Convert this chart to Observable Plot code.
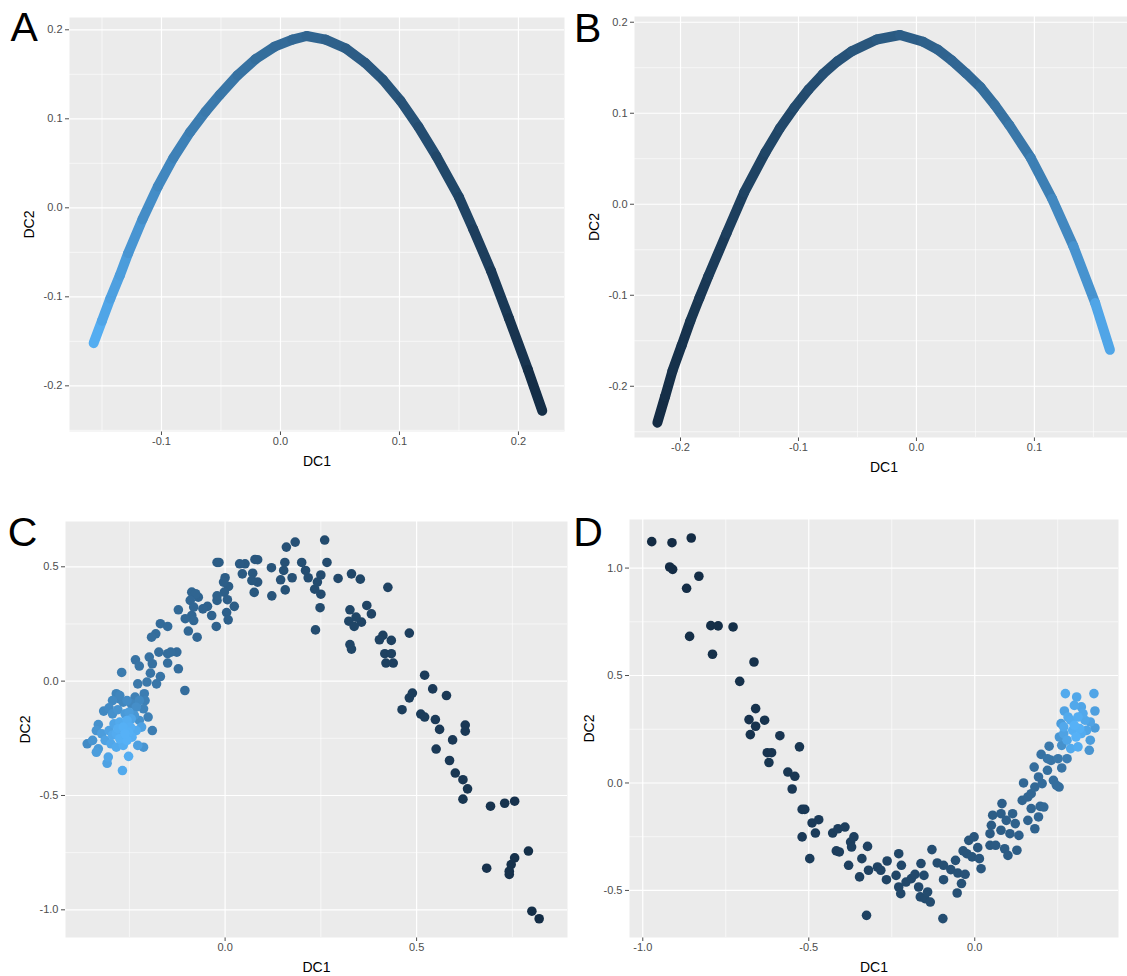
<!DOCTYPE html>
<html>
<head>
<meta charset="utf-8">
<script src="https://cdn.jsdelivr.net/npm/d3@7"></script>
<script src="https://cdn.jsdelivr.net/npm/@observablehq/plot@0.6"></script>
<style>
  html, body { margin: 0; padding: 0; background: #ffffff; overflow: hidden; }
  #root { position: relative; width: 1127px; height: 976px; overflow: hidden; background: #ffffff; }
  .panel { position: absolute; }
</style>
</head>
<body>
<div id="root"></div>
<script>
// ---------- data ----------
// Panel A: diffusion curve, [DC1, DC2, colour value]
const curveA = [
  [-0.157,-0.152,1.00],[-0.150,-0.127,0.94],[-0.143,-0.102,0.90],[-0.135,-0.076,0.87],
  [-0.128,-0.051,0.84],[-0.116,-0.013,0.78],[-0.103,0.024,0.73],[-0.090,0.056,0.69],
  [-0.076,0.085,0.65],[-0.063,0.108,0.62],[-0.051,0.127,0.60],[-0.036,0.149,0.57],
  [-0.021,0.167,0.54],[-0.005,0.181,0.51],[0.010,0.189,0.49],[0.022,0.193,0.47],
  [0.038,0.189,0.44],[0.055,0.179,0.41],[0.071,0.163,0.38],[0.086,0.144,0.35],
  [0.101,0.120,0.33],[0.116,0.091,0.30],[0.131,0.058,0.26],[0.150,0.012,0.21],
  [0.162,-0.024,0.18],[0.177,-0.071,0.14],[0.192,-0.124,0.10],[0.208,-0.182,0.05],
  [0.220,-0.228,0.00]
];
// Panel B
const curveB = [
  [-0.2196,-0.240,0.00],[-0.213,-0.211,0.02],[-0.2068,-0.183,0.04],[-0.199,-0.155,0.06],
  [-0.1916,-0.128,0.08],[-0.184,-0.103,0.10],[-0.1764,-0.079,0.12],[-0.161,-0.032,0.15],
  [-0.146,0.013,0.18],[-0.128,0.057,0.21],[-0.116,0.083,0.23],[-0.1036,0.106,0.25],
  [-0.0915,0.126,0.27],[-0.0793,0.143,0.29],[-0.067,0.157,0.31],[-0.055,0.168,0.33],
  [-0.0337,0.181,0.36],[-0.014,0.186,0.39],[0.0058,0.1785,0.42],[0.018,0.170,0.44],
  [0.030,0.158,0.46],[0.042,0.144,0.48],[0.0544,0.1285,0.51],[0.0665,0.109,0.54],
  [0.0787,0.087,0.57],[0.0969,0.051,0.62],[0.115,0.006,0.68],[0.133,-0.046,0.75],
  [0.1515,-0.1085,0.84],[0.164,-0.160,1.00]
];
// Panel C: cells
const cellsC = [
  [0.820,-1.039,0.02],[0.801,-1.006,0.03],[0.792,-0.743,0.04],[0.756,-0.773,0.05],
  [0.747,-0.802,0.05],[0.742,-0.845,0.05],[0.742,-0.831,0.05],[0.683,-0.818,0.06],
  [0.756,-0.525,0.06],[0.730,-0.534,0.07],[0.693,-0.547,0.07],[0.621,-0.516,0.09],
  [0.633,-0.471,0.09],[0.621,-0.431,0.10],[0.601,-0.402,0.10],[0.586,-0.347,0.11],
  [0.594,-0.257,0.11],[0.551,-0.297,0.12],[0.560,-0.211,0.12],[0.549,-0.168,0.13],
  [0.627,-0.192,0.11],[0.627,-0.219,0.11],[0.578,-0.063,0.12],[0.542,-0.034,0.13],
  [0.521,0.026,0.14],[0.511,-0.144,0.14],[0.521,-0.157,0.14],[0.462,-0.125,0.15],
  [0.481,-0.073,0.15],[0.489,-0.052,0.15],[0.481,0.210,0.16],[0.434,0.178,0.18],
  [0.412,0.200,0.18],[0.403,0.181,0.19],[0.417,0.120,0.18],[0.434,0.120,0.18],
  [0.420,0.079,0.18],[0.439,0.079,0.17],[0.425,0.410,0.19],[0.370,0.331,0.21],
  [0.382,0.294,0.21],[0.326,0.312,0.22],[0.342,0.280,0.22],[0.323,0.262,0.22],
  [0.337,0.239,0.22],[0.356,0.258,0.21],[0.326,0.160,0.22],[0.330,0.140,0.22],
  [0.330,0.469,0.23],[0.353,0.446,0.22],[0.295,0.449,0.24],[0.260,0.617,0.26],
  [0.266,0.519,0.26],[0.250,0.464,0.26],[0.250,0.380,0.26],[0.248,0.321,0.26],
  [0.236,0.224,0.27],[0.234,0.402,0.27],[0.241,0.433,0.27],[0.217,0.452,0.28],
  [0.210,0.484,0.28],[0.200,0.519,0.29],[0.183,0.608,0.30],[0.160,0.586,0.31],
  [0.156,0.519,0.31],[0.153,0.484,0.31],[0.175,0.452,0.30],[0.145,0.443,0.32],
  [0.157,0.399,0.31],[0.121,0.496,0.33],[0.122,0.373,0.33],[0.085,0.531,0.35],
  [0.078,0.532,0.35],[0.085,0.433,0.35],[0.072,0.472,0.36],[0.070,0.440,0.36],
  [0.076,0.388,0.36],[0.052,0.513,0.37],[0.038,0.513,0.38],[0.045,0.469,0.37],
  [-0.021,0.519,0.40],[-0.016,0.519,0.40],[0.000,0.452,0.40],[-0.004,0.433,0.41],
  [0.009,0.414,0.40],[-0.002,0.389,0.41],[0.006,0.356,0.41],[0.024,0.327,0.40],
  [0.004,0.300,0.42],[0.008,0.268,0.42],[-0.021,0.353,0.43],[-0.021,0.373,0.43],
  [-0.035,0.287,0.44],[-0.023,0.239,0.44],[-0.046,0.327,0.44],[-0.058,0.316,0.45],
  [-0.070,0.367,0.45],[-0.087,0.389,0.46],[-0.077,0.382,0.46],[-0.091,0.353,0.47],
  [-0.082,0.324,0.47],[-0.087,0.287,0.47],[-0.082,0.265,0.48],[-0.104,0.273,0.48],
  [-0.073,0.192,0.47],[-0.096,0.219,0.48],[-0.122,0.312,0.49],[-0.169,0.251,0.51],
  [-0.150,0.239,0.51],[-0.192,0.192,0.53],[-0.181,0.207,0.52],[-0.173,0.127,0.53],
  [-0.150,0.120,0.52],[-0.142,0.127,0.52],[-0.126,0.127,0.51],[-0.150,0.079,0.53],
  [-0.122,0.054,0.52],[-0.105,-0.041,0.52],[-0.198,0.105,0.55],[-0.190,0.076,0.55],
  [-0.234,0.093,0.56],[-0.224,0.066,0.57],[-0.195,0.035,0.57],[-0.169,0.020,0.57],
  [-0.179,-0.012,0.59],[-0.204,-0.004,0.60],[-0.228,-0.012,0.60],[-0.270,0.038,0.62],
  [-0.211,-0.055,0.64],[-0.235,-0.070,0.66],[-0.284,-0.055,0.68],[-0.275,-0.077,0.69],
  [-0.266,-0.092,0.70],[-0.245,-0.099,0.70],[-0.209,-0.085,0.66],[-0.213,-0.121,0.68],
  [-0.201,-0.157,0.66],[-0.190,-0.216,0.64],[-0.317,-0.131,0.72],[-0.303,-0.117,0.74],
  [-0.294,-0.143,0.78],[-0.280,-0.125,0.80],[-0.261,-0.143,0.84],[-0.251,-0.136,0.86],
  [-0.237,-0.150,0.82],[-0.224,-0.172,0.78],[-0.331,-0.190,0.78],[-0.336,-0.216,0.80],
  [-0.322,-0.230,0.86],[-0.303,-0.216,0.90],[-0.290,-0.187,0.92],[-0.275,-0.179,0.95],
  [-0.256,-0.172,0.97],[-0.247,-0.201,0.98],[-0.232,-0.216,0.96],[-0.218,-0.201,0.90],
  [-0.360,-0.274,0.74],[-0.346,-0.259,0.80],[-0.331,-0.296,0.84],[-0.336,-0.311,0.86],
  [-0.313,-0.259,0.90],[-0.298,-0.274,0.93],[-0.284,-0.289,0.95],[-0.266,-0.281,0.97],
  [-0.256,-0.259,1.00],[-0.243,-0.245,0.98],[-0.228,-0.281,0.88],[-0.213,-0.289,0.80],
  [-0.305,-0.332,0.92],[-0.308,-0.359,0.90],[-0.252,-0.329,0.97],[-0.268,-0.391,0.95],
  [-0.284,-0.230,0.96],[-0.275,-0.252,0.99],[-0.261,-0.230,1.00],[-0.252,-0.223,0.99],
  [-0.294,-0.236,0.94],[-0.280,-0.208,0.97],[-0.266,-0.201,0.99],[-0.245,-0.165,0.92],
  [-0.232,-0.114,0.76],[-0.224,-0.085,0.72],[-0.256,-0.085,0.74],[-0.294,-0.085,0.72],
  [-0.275,-0.063,0.70]
];
// Panel D: cells
const cellsD = [
  [-0.973,1.123,0.00],[-0.912,1.118,0.01],[-0.854,1.140,0.01],[-0.919,1.005,0.01],
  [-0.910,0.994,0.01],[-0.831,0.962,0.02],[-0.868,0.906,0.02],[-0.859,0.682,0.03],
  [-0.795,0.732,0.03],[-0.773,0.731,0.03],[-0.728,0.726,0.04],[-0.790,0.599,0.04],
  [-0.665,0.563,0.05],[-0.708,0.473,0.05],[-0.660,0.346,0.06],[-0.680,0.295,0.06],
  [-0.660,0.264,0.07],[-0.633,0.292,0.07],[-0.676,0.225,0.07],[-0.587,0.220,0.08],
  [-0.625,0.141,0.08],[-0.612,0.141,0.08],[-0.620,0.095,0.09],[-0.528,0.168,0.09],
  [-0.563,0.051,0.10],[-0.542,0.031,0.10],[-0.550,-0.028,0.11],[-0.520,-0.123,0.12],
  [-0.512,-0.123,0.12],[-0.490,-0.186,0.13],[-0.470,-0.171,0.13],[-0.480,-0.233,0.14],
  [-0.520,-0.251,0.13],[-0.497,-0.352,0.14],[-0.428,-0.233,0.15],[-0.412,-0.213,0.16],
  [-0.391,-0.205,0.16],[-0.417,-0.316,0.16],[-0.408,-0.321,0.16],[-0.374,-0.275,0.17],
  [-0.364,-0.251,0.17],[-0.371,-0.298,0.17],[-0.380,-0.383,0.17],[-0.340,-0.352,0.18],
  [-0.323,-0.295,0.19],[-0.347,-0.437,0.18],[-0.326,-0.616,0.19],[-0.320,-0.406,0.19],
  [-0.293,-0.391,0.20],[-0.283,-0.406,0.21],[-0.264,-0.363,0.21],[-0.266,-0.450,0.21],
  [-0.229,-0.329,0.22],[-0.221,-0.383,0.23],[-0.237,-0.430,0.22],[-0.229,-0.484,0.23],
  [-0.223,-0.515,0.23],[-0.207,-0.461,0.24],[-0.191,-0.445,0.24],[-0.180,-0.425,0.25],
  [-0.162,-0.375,0.25],[-0.153,-0.430,0.26],[-0.169,-0.484,0.25],[-0.164,-0.530,0.26],
  [-0.150,-0.538,0.26],[-0.134,-0.554,0.27],[-0.142,-0.507,0.27],[-0.129,-0.310,0.28],
  [-0.113,-0.372,0.28],[-0.094,-0.383,0.29],[-0.096,-0.631,0.28],[-0.094,-0.450,0.29],
  [-0.072,-0.403,0.30],[-0.058,-0.360,0.31],[-0.051,-0.419,0.31],[-0.040,-0.468,0.31],
  [-0.053,-0.512,0.30],[-0.029,-0.425,0.32],[-0.024,-0.329,0.33],[-0.035,-0.316,0.33],
  [-0.018,-0.267,0.34],[-0.002,-0.251,0.35],[0.009,-0.301,0.35],[0.014,-0.352,0.35],
  [0.019,-0.399,0.35],[-0.008,-0.344,0.34],[0.046,-0.290,0.37],[0.046,-0.236,0.38],
  [0.050,-0.197,0.39],[0.054,-0.150,0.40],[0.063,-0.290,0.38],[0.090,-0.306,0.39],
  [0.100,-0.337,0.39],[0.127,-0.313,0.40],[0.079,-0.220,0.40],[0.082,-0.096,0.42],
  [0.079,-0.143,0.41],[0.095,-0.174,0.42],[0.114,-0.143,0.43],[0.122,-0.189,0.43],
  [0.133,-0.244,0.42],[0.106,-0.236,0.41],[0.143,-0.081,0.46],[0.147,0.000,0.48],
  [0.160,-0.065,0.47],[0.170,-0.119,0.46],[0.181,-0.213,0.44],[0.160,-0.174,0.45],
  [0.192,-0.158,0.47],[0.197,-0.109,0.48],[0.208,-0.112,0.49],[0.170,-0.050,0.48],
  [0.181,-0.019,0.49],[0.179,0.074,0.52],[0.192,0.028,0.51],[0.203,-0.003,0.51],
  [0.219,0.059,0.54],[0.200,0.133,0.56],[0.224,0.171,0.60],[0.237,0.012,0.53],
  [0.254,-0.019,0.53],[0.246,-0.011,0.53],[0.262,0.070,0.57],[0.230,0.105,0.57],
  [0.251,0.113,0.60],[0.219,0.113,0.58],[0.278,0.113,0.64],
  [0.273,0.416,0.95],[0.307,0.400,0.93],[0.359,0.416,0.92],[0.270,0.335,0.90],
  [0.300,0.361,0.94],[0.321,0.354,0.92],[0.362,0.335,0.88],[0.260,0.276,0.86],
  [0.289,0.292,0.96],[0.311,0.307,0.97],[0.332,0.292,0.93],[0.348,0.284,0.90],
  [0.362,0.256,0.85],[0.268,0.230,0.90],[0.295,0.245,0.98],[0.321,0.230,0.96],
  [0.337,0.245,0.92],[0.255,0.214,0.82],[0.278,0.199,0.92],[0.311,0.168,0.97],
  [0.289,0.160,0.95],[0.345,0.152,0.80],[0.348,0.199,0.86],[0.268,0.261,0.94],
  [0.300,0.268,1.00],[0.316,0.253,0.99],[0.281,0.307,0.95],[0.326,0.323,0.94],
  [0.262,0.175,0.78],[0.305,0.214,1.00]
];

// tick breaks
const ticksA = { xMajor: [-0.1, 0, 0.1, 0.2], xMinor: [-0.15, -0.05, 0.05, 0.15],
                 yMajor: [-0.2, -0.1, 0, 0.1, 0.2], yMinor: [-0.25, -0.15, -0.05, 0.05, 0.15] };
const ticksB = { xMajor: [-0.2, -0.1, 0, 0.1], xMinor: [-0.15, -0.05, 0.05, 0.15],
                 yMajor: [-0.2, -0.1, 0, 0.1, 0.2], yMinor: [-0.25, -0.15, -0.05, 0.05, 0.15] };
const ticksC = { xMajor: [0, 0.5], xMinor: [-0.25, 0.25, 0.75],
                 yMajor: [-1, -0.5, 0, 0.5], yMinor: [-0.75, -0.25, 0.25] };
const ticksD = { xMajor: [-1, -0.5, 0], xMinor: [-0.75, -0.25, 0.25],
                 yMajor: [-0.5, 0, 0.5, 1], yMinor: [-0.25, 0.25, 0.75] };

const panelLetters = ["A", "B", "C", "D"];
const axisTitles = { x: "DC1", y: "DC2" };
const gradient = ["#132B43", "#56B1F7"];

// ---------- drawing ----------
const FONT = "'Liberation Sans', Arial, Helvetica, sans-serif";
const fmt = d => d.toFixed(1);

function panel(cfg) {
  const marks = [
    Plot.frame({ fill: "#EBEBEB", stroke: "none" }),
    Plot.ruleX(cfg.ticks.xMinor, { stroke: "#FFFFFF", strokeWidth: 0.6 }),
    Plot.ruleY(cfg.ticks.yMinor, { stroke: "#FFFFFF", strokeWidth: 0.6 }),
    Plot.ruleX(cfg.ticks.xMajor, { stroke: "#FFFFFF", strokeWidth: 1.2 }),
    Plot.ruleY(cfg.ticks.yMajor, { stroke: "#FFFFFF", strokeWidth: 1.2 })
  ];
  if (cfg.curve) {
    const segs = d3.pairs(cfg.curve);
    marks.push(Plot.link(segs, {
      x1: s => s[0][0], y1: s => s[0][1], x2: s => s[1][0], y2: s => s[1][1],
      stroke: s => (s[0][2] + s[1][2]) / 2,
      strokeWidth: 10, strokeLinecap: "round"
    }));
  }
  if (cfg.cells) {
    const sorted = [...cfg.cells].sort((a, b) => a[2] - b[2]);
    marks.push(Plot.dot(sorted, { x: d => d[0], y: d => d[1], fill: d => d[2], r: 4.8 }));
  }
  marks.push(
    Plot.text([axisTitles.x], { frameAnchor: "bottom", text: d => d, dy: 30, fontSize: 14,
      fill: "#000000", lineAnchor: "middle", textAnchor: "middle" }),
    Plot.text([axisTitles.y], { frameAnchor: "left", text: d => d, rotate: -90, dx: -40, fontSize: 14,
      fill: "#000000", lineAnchor: "middle", textAnchor: "middle" }),
    Plot.text([cfg.letter], { frameAnchor: "top-left", text: d => d, textAnchor: "start", lineAnchor: "middle",
      dx: cfg.letterDx, dy: cfg.letterDy, fontSize: 41, fill: "#000000" })
  );
  const svg = Plot.plot({
    width: cfg.width, height: cfg.height,
    marginLeft: cfg.m[0], marginRight: cfg.m[1], marginTop: cfg.m[2], marginBottom: cfg.m[3],
    style: { fontFamily: FONT, fontSize: "11px", color: "#4D4D4D", background: "transparent",
             overflow: "visible", maxWidth: "none" },
    x: { domain: cfg.xDomain, ticks: cfg.ticks.xMajor, tickFormat: fmt, tickSize: 4, tickPadding: 2, label: null },
    y: { domain: cfg.yDomain, ticks: cfg.ticks.yMajor, tickFormat: fmt, tickSize: 4, tickPadding: 3, label: null },
    color: { type: "linear", domain: [0, 1], range: gradient, interpolate: "lab" },
    marks
  });
  const div = document.createElement("div");
  div.className = "panel";
  div.style.left = cfg.left + "px";
  div.style.top = cfg.top + "px";
  div.style.width = cfg.width + "px";
  div.style.height = cfg.height + "px";
  div.appendChild(svg);
  document.getElementById("root").appendChild(div);
}

panel({ letter: panelLetters[0], curve: curveA, ticks: ticksA, left: 0, top: 0, width: 565, height: 480,
        m: [69, 1, 17, 49], xDomain: [-0.1773, 0.2387], yDomain: [-0.2513, 0.2138], letterDx: -59, letterDy: 10 });
panel({ letter: panelLetters[1], curve: curveB, ticks: ticksB, left: 565, top: 0, width: 568, height: 480,
        m: [69, 0, 16, 43], xDomain: [-0.239, 0.184], yDomain: [-0.2563, 0.2063], letterDx: -60.5, letterDy: 12 });
panel({ letter: panelLetters[2], cells: cellsC, ticks: ticksC, left: 0, top: 500, width: 567, height: 476,
        m: [65, 0, 21, 39], xDomain: [-0.4167, 0.894], yDomain: [-1.121, 0.698], letterDx: -57.7, letterDy: 11 });
panel({ letter: panelLetters[3], cells: cellsD, ticks: ticksD, left: 565, top: 500, width: 562, height: 476,
        m: [64, 9, 19, 39], xDomain: [-1.040, 0.433], yDomain: [-0.719, 1.226], letterDx: -56.3, letterDy: 13 });
</script>
</body>
</html>
